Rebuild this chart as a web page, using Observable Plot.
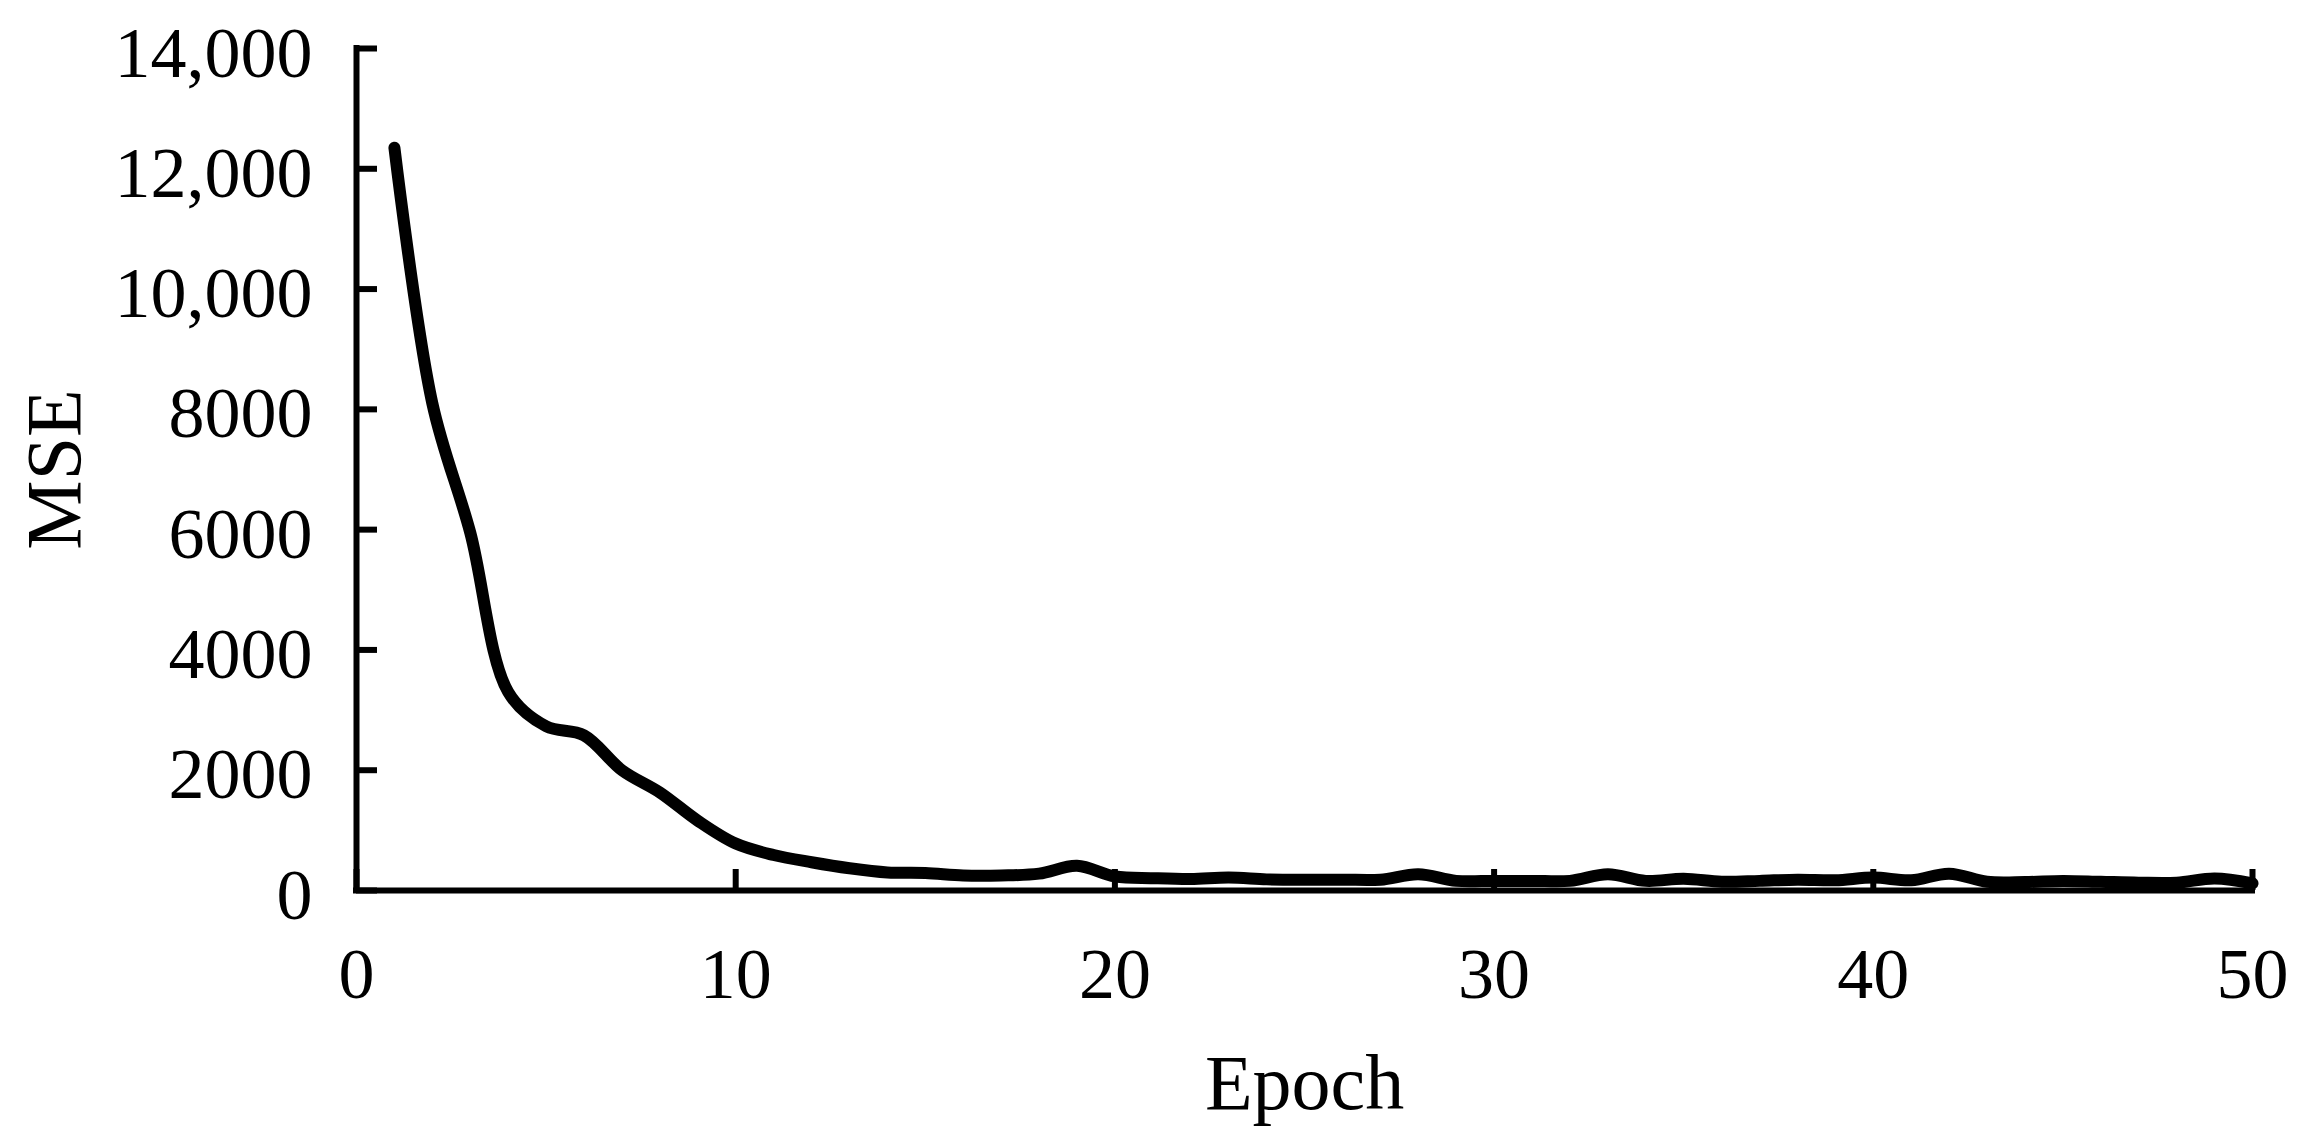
<!DOCTYPE html>
<html>
<head>
<meta charset="utf-8">
<script src="https://cdn.jsdelivr.net/npm/d3@7"></script>
<script src="https://cdn.jsdelivr.net/npm/@observablehq/plot@0.6"></script>
<style>
  html, body { margin: 0; padding: 0; background: #fff; }
  #chart svg { display: block; }
</style>
</head>
<body>
<div id="chart"></div>
<script>
const epochs = d3.range(1, 51);
const mse = [12350, 8100, 5950, 3300, 2730, 2580, 2000, 1630, 1160, 780,
             590, 470, 370, 300, 290, 250, 250, 280, 410, 235,
             205, 190, 215, 185, 178, 180, 180, 270, 160, 160,
             160, 160, 270, 160, 195, 145, 160, 180, 170, 215,
             170, 280, 145, 140, 160, 145, 130, 130, 200, 120];
const xTicks = [0, 10, 20, 30, 40, 50];
const yTicks = [0, 2000, 4000, 6000, 8000, 10000, 12000, 14000];
const yTickLabels = ["0", "2000", "4000", "6000", "8000", "10,000", "12,000", "14,000"];
const xLabel = "Epoch";
const yLabel = "MSE";

const data = epochs.map((e, i) => ({epoch: e, mse: mse[i]}));

const W = 2303, H = 1143;
const mL = 356, mR = 51, mT = 48, mB = 253;
const font = "'Liberation Serif', 'Times New Roman', serif";

const chart = Plot.plot({
  width: W,
  height: H,
  marginLeft: mL,
  marginRight: mR,
  marginTop: mT,
  marginBottom: mB,
  style: {fontFamily: font, background: "#fff", color: "#000"},
  x: {domain: [0, 50]},
  y: {domain: [0, 14000]},
  marks: [
    // inward ticks
    Plot.tickY(yTicks, {y: d => d, stroke: "#000", strokeWidth: 6, insetRight: (W - mL - mR) - 21}),
    Plot.tickX(xTicks, {x: d => d, stroke: "#000", strokeWidth: 6, insetTop: (H - mT - mB) - 21}),
    // axis lines
    Plot.ruleX([0], {stroke: "#000", strokeWidth: 6, strokeLinecap: "square"}),
    Plot.ruleY([0], {stroke: "#000", strokeWidth: 6, strokeLinecap: "square"}),
    // tick labels
    Plot.axisY(yTicks, {tickSize: 0, tickPadding: 44, fontSize: 72, dy: 5,
      tickFormat: (d) => yTickLabels[yTicks.indexOf(d)], label: null}),
    Plot.axisX(xTicks, {tickSize: 0, tickPadding: 56, fontSize: 72,
      tickFormat: (d) => String(d), label: null}),
    // axis titles
    Plot.text([xLabel], {frameAnchor: "bottom", lineAnchor: "bottom", textAnchor: "middle", dy: 218, fontSize: 78, fill: "#000"}),
    Plot.text([yLabel], {frameAnchor: "left", lineAnchor: "bottom", textAnchor: "middle", rotate: -90, dx: -277, fontSize: 78, fill: "#000"}),
    // data line
    Plot.line(data, {x: "epoch", y: "mse", curve: "catmull-rom", stroke: "#000",
      strokeWidth: 12, strokeLinecap: "round", strokeLinejoin: "round"})
  ]
});
document.getElementById("chart").appendChild(chart);
</script>
</body>
</html>
